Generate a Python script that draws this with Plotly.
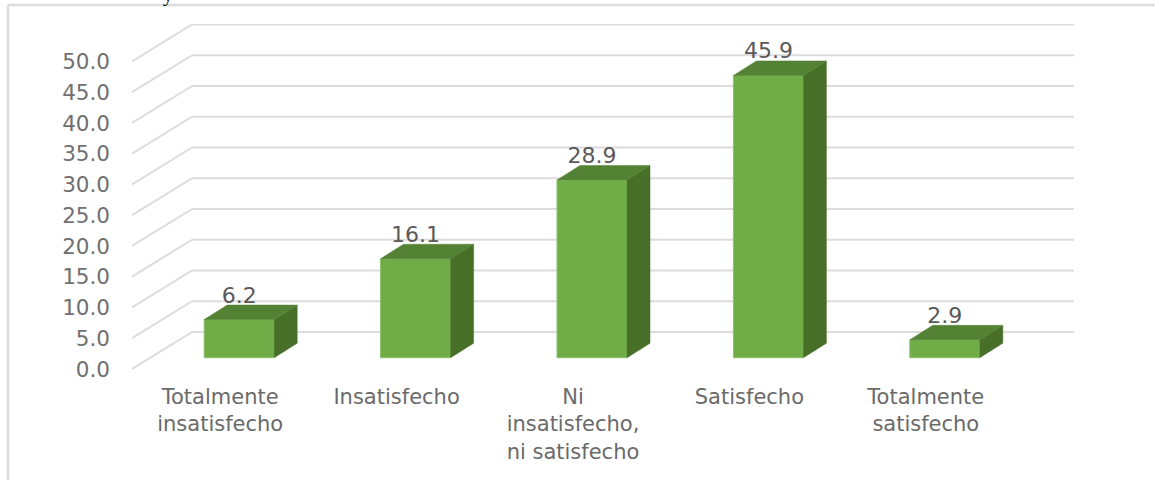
"""Satisfaction levels as a pseudo-3D bar chart."""

import plotly.graph_objects as go

categories = [
    'Totalmente<br>insatisfecho',
    'Insatisfecho',
    'Ni<br>insatisfecho,<br>ni satisfecho',
    'Satisfecho',
    'Totalmente<br>satisfecho',
]
values = [6.2, 16.1, 28.9, 45.9, 2.9]
y_ticks = [0, 5, 10, 15, 20, 25, 30, 35, 40, 45, 50]

# Pixel geometry of the fake 3D box
LEFT, RIGHT, TOP, BOTTOM = 132, 1074, 24, 369
PX_PER_CAT = 176.4
PX_PER_UNIT = 6.15


def dx(px):
    return px / PX_PER_CAT


def dy(px):
    return px / PX_PER_UNIT


FRONT_COLOR = '#70ad47'
TOP_COLOR = '#548235'
SIDE_COLOR = '#476f28'
GRID_COLOR = '#dcdcdc'

xs = list(range(len(values)))
bar_x = [x + dx(19) for x in xs]
bar_w = dx(70)
bar_base = dy(11.3)
depth_x, depth_y = dx(23), dy(14.5)

fig = go.Figure()

# Front faces
fig.add_trace(go.Bar(
    x=bar_x,
    y=values,
    base=bar_base,
    width=bar_w,
    marker=dict(color=FRONT_COLOR, line=dict(color='#8cc06a', width=1)),
    hoverinfo='skip',
))

# Side and top faces
for x, v in zip(bar_x, values):
    left, right = x - bar_w / 2, x + bar_w / 2
    top = bar_base + v
    fig.add_trace(go.Scatter(
        x=[right, right + depth_x, right + depth_x, right, right],
        y=[bar_base, bar_base + depth_y, top + depth_y, top, bar_base],
        mode='lines',
        fill='toself',
        fillcolor=SIDE_COLOR,
        line=dict(color=SIDE_COLOR, width=0.5),
        hoverinfo='skip',
    ))
    fig.add_trace(go.Scatter(
        x=[left, left + depth_x, right + depth_x, right, left],
        y=[top, top + depth_y, top + depth_y, top, top],
        mode='lines',
        fill='toself',
        fillcolor=TOP_COLOR,
        line=dict(color=TOP_COLOR, width=0.5),
        hoverinfo='skip',
    ))

# Data labels
fig.add_trace(go.Scatter(
    x=bar_x,
    y=[bar_base + v + depth_y - dy(3) for v in values],
    mode='text',
    text=[f'{v:.1f}' for v in values],
    textposition='top center',
    textfont=dict(family='DejaVu Sans', size=22, color='#595959'),
    hoverinfo='skip',
    cliponaxis=False,
))

# Gridlines: diagonal on the side wall, then along the back wall
wall_x, wall_y = dx(60), dy(37)
x_start = -0.5
x_end = x_start + (RIGHT - LEFT) / PX_PER_CAT
shapes = []
for t in y_ticks:
    shapes.append(dict(
        type='line', layer='below', xref='x', yref='y',
        x0=x_start, y0=t, x1=x_start + wall_x, y1=t + wall_y,
        line=dict(color=GRID_COLOR, width=2),
    ))
    shapes.append(dict(
        type='line', layer='below', xref='x', yref='y',
        x0=x_start + wall_x, y0=t + wall_y, x1=x_end, y1=t + wall_y,
        line=dict(color=GRID_COLOR, width=2),
    ))

# Picture frame, top and left edges only
shapes.append(dict(
    type='line', layer='below', xref='paper', yref='paper',
    x0=(8 - LEFT) / (RIGHT - LEFT), x1=(1155 - LEFT) / (RIGHT - LEFT),
    y0=(BOTTOM - 5) / (BOTTOM - TOP), y1=(BOTTOM - 5) / (BOTTOM - TOP),
    line=dict(color=GRID_COLOR, width=2.5),
))
shapes.append(dict(
    type='line', layer='below', xref='paper', yref='paper',
    x0=(8 - LEFT) / (RIGHT - LEFT), x1=(8 - LEFT) / (RIGHT - LEFT),
    y0=(BOTTOM - 5) / (BOTTOM - TOP), y1=(BOTTOM - 480) / (BOTTOM - TOP),
    line=dict(color=GRID_COLOR, width=2.5),
))

fig.update_layout(
    width=1155,
    height=480,
    margin=dict(l=LEFT, r=1155 - RIGHT, t=TOP, b=480 - BOTTOM, autoexpand=False),
    paper_bgcolor='white',
    plot_bgcolor='rgba(0,0,0,0)',
    showlegend=False,
    shapes=shapes,
    font=dict(family='DejaVu Sans', color='#707070'),
    xaxis=dict(
        range=[x_start, x_end],
        tickmode='array',
        tickvals=xs,
        ticktext=categories,
        tickfont=dict(size=21, color='#6a6a6a'),
        showgrid=False,
        zeroline=False,
        showline=False,
        ticks='',
        ticklabelstandoff=13,
    ),
    yaxis=dict(
        range=[0, (BOTTOM - TOP) / PX_PER_UNIT],
        tickmode='array',
        tickvals=y_ticks,
        ticktext=[f'{t:.1f}' for t in y_ticks],
        tickfont=dict(size=21.5, color='#707070'),
        showgrid=False,
        zeroline=False,
        showline=False,
        ticks='',
        ticklabelstandoff=21,
    ),
    annotations=[dict(
        text='y', xref='paper', yref='paper', showarrow=False,
        x=(168 - LEFT) / (RIGHT - LEFT), y=(BOTTOM + 5) / (BOTTOM - TOP),
        xanchor='center', yanchor='middle',
        font=dict(family='Liberation Serif', size=20, color='black'),
    )],
)

# Page margin would push the picture 8px off the reference
fig.write_html(
    "out.html",
    config=dict(displayModeBar=False),
    post_script="document.body.style.margin = '0';",
)
